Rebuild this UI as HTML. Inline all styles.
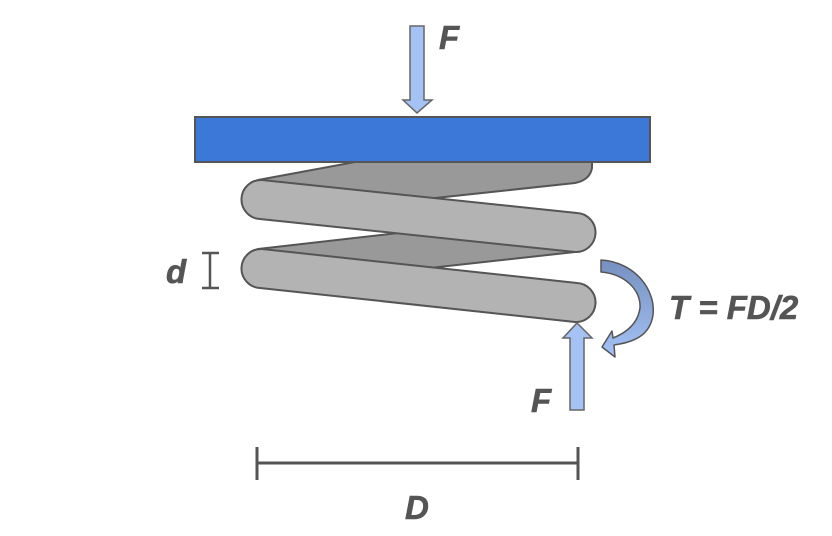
<!DOCTYPE html>
<html><head><style>body{margin:0;background:#fff}svg{display:block}</style></head><body>
<svg width="832" height="536" viewBox="0 0 832 536" xmlns="http://www.w3.org/2000/svg">
<defs>
<linearGradient id="g" x1="0" y1="0" x2="0" y2="1">
<stop offset="0" stop-color="#7590c0"/><stop offset="1" stop-color="#a4c2f4"/>
</linearGradient>
</defs>
<g stroke="#555" stroke-width="2" stroke-linejoin="round">
<path d="M258,180 L420,150 L592,150 L592,168 Q590,180 575,183 L258,217 Z" fill="#999"/>
<path d="M258,249 L575,213 L575,252 L258,287 Z" fill="#999"/>
<path d="M262,180 L577,213 A19.5,19.5 0 0 1 575,252 L260,219 A19.5,19.5 0 0 1 262,180 Z" fill="#b3b3b3"/>
<path d="M262,249 L577,283 A19.5,19.5 0 0 1 575,322 L260,288 A19.5,19.5 0 0 1 262,249 Z" fill="#b3b3b3"/>
</g>
<rect x="195" y="117" width="455" height="45" fill="#3c78d8" stroke="#555" stroke-width="2"/>
<path d="M410,26 L424,26 L424,100 L432,100 L417,113 L403,100 L410,100 Z" fill="#a4c2f4" stroke="#666" stroke-width="1.5"/>
<path d="M570,410 L584,410 L584,338 L592,338 L577,323 L563,338 L570,338 Z" fill="#a4c2f4" stroke="#666" stroke-width="1.5"/>
<path d="M601,260 C635,262 656,290 653,315 C650,335 635,342 614,345 L615,357 L602,347 L612,331 L613,338 C628,332 638,322 640,308 C641,290 625,274 601,272 Z" fill="url(#g)" stroke="#555" stroke-width="1.5" stroke-linejoin="round"/>
<g stroke="#555" stroke-width="2.5"><line x1="210" y1="253" x2="210" y2="288"/><line x1="202" y1="253" x2="219" y2="253"/><line x1="202" y1="288" x2="219" y2="288"/></g>
<g stroke="#555" stroke-width="3"><line x1="257" y1="463" x2="578" y2="463"/><line x1="257" y1="447" x2="257" y2="480"/><line x1="578" y1="447" x2="578" y2="480"/></g>
<g font-family="Liberation Sans, sans-serif" font-weight="bold" font-style="italic" fill="#555" font-size="33" stroke="#555" stroke-width="0.6">
<text x="439" y="49">F</text>
<text x="531" y="412">F</text>
<text x="166" y="283">d</text>
<text x="405" y="519">D</text>
<text x="669" y="319">T = FD/2</text>
</g>
</svg>
</body></html>
